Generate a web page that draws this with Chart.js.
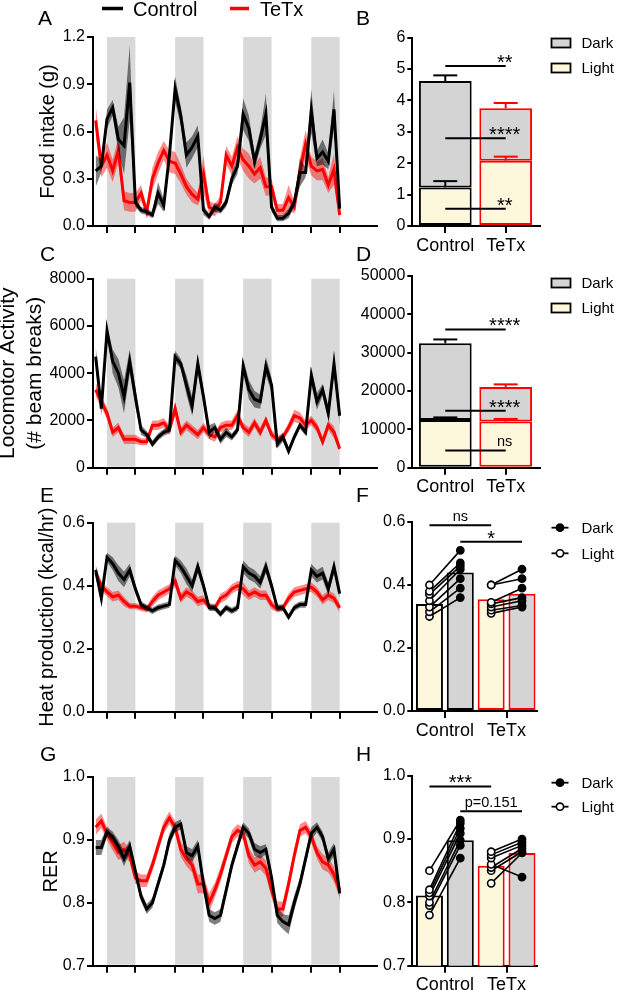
<!DOCTYPE html>
<html>
<head>
<meta charset="utf-8">
<title>Control vs TeTx metabolic phenotype</title>
<script src="https://cdn.jsdelivr.net/npm/chart.js@4.4.1/dist/chart.umd.min.js"></script>
<style>
  html, body { margin:0; padding:0; background:#fff; }
  #fig { position:relative; width:617px; height:990px; overflow:hidden; background:#fff; }
  #fig canvas { position:absolute; }
</style>
</head>
<body>
<div id="fig">
  <canvas id="cA"></canvas><canvas id="cB"></canvas>
  <canvas id="cC"></canvas><canvas id="cD"></canvas>
  <canvas id="cE"></canvas><canvas id="cF"></canvas>
  <canvas id="cG"></canvas><canvas id="cH"></canvas>
</div>
<script>
// ================= DATA =================
const GROUPS = ['Control', 'TeTx'];
const PERIODS = ['Dark', 'Light'];
// 2-h bins over 4 days
const TIME_POINTS = [0,1,2,3,4,5,6,7,8,9,10,11,12,13,14,15,16,17,18,19,20,21,22,23,24,25,26,27,28,29,30,31,32,33,34,35,36,37,38,39,40,41,42,43];
const DARK_PERIODS = [[2,7],[14,19],[26,31],[38,43]];

// A: food intake (g), mean and SEM
const FOOD_CONTROL = [0.35,0.38,0.68,0.75,0.55,0.51,0.91,0.15,0.10,0.09,0.07,0.21,0.13,0.45,0.87,0.70,0.45,0.50,0.57,0.10,0.06,0.12,0.10,0.15,0.30,0.38,0.71,0.62,0.41,0.55,0.71,0.12,0.05,0.05,0.08,0.15,0.34,0.34,0.73,0.43,0.47,0.41,0.74,0.11];
const FOOD_CONTROL_SEM = [0.10,0.04,0.06,0.05,0.08,0.18,0.24,0.03,0.02,0.02,0.02,0.07,0.04,0.05,0.08,0.06,0.08,0.07,0.07,0.03,0.02,0.03,0.02,0.03,0.04,0.05,0.10,0.08,0.05,0.06,0.13,0.03,0.02,0.02,0.03,0.03,0.09,0.03,0.14,0.05,0.08,0.05,0.12,0.02];
const FOOD_TETX = [0.67,0.38,0.45,0.35,0.48,0.16,0.15,0.15,0.21,0.09,0.30,0.40,0.48,0.41,0.40,0.33,0.25,0.20,0.17,0.33,0.12,0.10,0.15,0.45,0.38,0.50,0.42,0.38,0.33,0.37,0.25,0.25,0.10,0.10,0.18,0.12,0.35,0.52,0.38,0.35,0.36,0.26,0.36,0.07];
const FOOD_TETX_SEM = [0.10,0.07,0.08,0.07,0.08,0.06,0.06,0.06,0.05,0.03,0.07,0.07,0.06,0.07,0.07,0.06,0.05,0.05,0.04,0.12,0.04,0.04,0.04,0.06,0.06,0.07,0.07,0.08,0.06,0.07,0.06,0.05,0.04,0.04,0.08,0.04,0.08,0.09,0.06,0.06,0.07,0.05,0.10,0.03];

// C: locomotor activity (# beam breaks)
const LOCO_CONTROL = [4700,2500,5800,4500,4000,3000,4500,3000,1600,1400,1000,1300,1500,1600,4700,4400,3500,2600,4400,3000,1500,1700,1200,1500,1300,1600,4300,3300,2900,2800,4300,3500,1000,1300,700,1300,1800,1500,3900,2800,3300,2300,4400,2200];
const LOCO_CONTROL_SEM = [450,300,150,500,600,700,500,400,200,150,150,150,150,150,250,200,400,400,350,300,300,200,200,200,150,150,300,400,350,300,400,300,200,200,150,150,150,150,350,350,250,300,400,400];
const LOCO_TETX = [3300,2800,2300,1500,1700,1200,1200,1200,1100,1100,1800,1800,1900,1600,2500,1500,1800,1600,1400,1700,1400,1300,1700,1800,1800,2200,1700,1500,1900,1500,2000,1400,1200,1300,1700,2200,2100,1800,2000,1700,1100,1800,1500,800];
const LOCO_TETX_SEM = [300,250,250,200,200,200,200,200,150,150,200,200,200,200,300,200,200,200,200,200,200,200,200,200,200,250,200,200,200,200,200,200,150,150,200,250,250,200,200,200,200,200,250,150];

// E: heat production (kcal/hr)
const HEAT_CONTROL = [0.45,0.36,0.49,0.47,0.44,0.42,0.45,0.39,0.34,0.33,0.32,0.33,0.335,0.34,0.48,0.46,0.43,0.40,0.46,0.40,0.33,0.33,0.31,0.33,0.32,0.33,0.46,0.44,0.43,0.41,0.46,0.40,0.33,0.33,0.30,0.33,0.34,0.34,0.45,0.43,0.44,0.39,0.46,0.375];
const HEAT_CONTROL_SEM = [0.02,0.015,0.015,0.02,0.025,0.025,0.02,0.015,0.01,0.01,0.01,0.01,0.01,0.01,0.015,0.02,0.025,0.02,0.02,0.015,0.01,0.01,0.01,0.01,0.01,0.01,0.02,0.02,0.02,0.02,0.02,0.015,0.01,0.01,0.01,0.01,0.01,0.01,0.02,0.02,0.02,0.02,0.02,0.015];
const HEAT_TETX = [0.44,0.40,0.38,0.365,0.37,0.35,0.335,0.335,0.33,0.325,0.35,0.37,0.38,0.39,0.415,0.36,0.38,0.37,0.35,0.355,0.335,0.33,0.36,0.37,0.39,0.40,0.39,0.37,0.38,0.37,0.37,0.34,0.325,0.33,0.36,0.38,0.385,0.39,0.395,0.38,0.355,0.37,0.36,0.33];
const HEAT_TETX_SEM = [0.02,0.015,0.015,0.015,0.015,0.015,0.01,0.01,0.01,0.01,0.015,0.015,0.015,0.015,0.02,0.015,0.015,0.015,0.015,0.015,0.01,0.01,0.015,0.015,0.015,0.015,0.02,0.015,0.015,0.015,0.015,0.015,0.01,0.01,0.015,0.015,0.015,0.015,0.015,0.015,0.015,0.015,0.015,0.015];

// G: RER
const RER_CONTROL = [0.888,0.888,0.913,0.905,0.89,0.87,0.89,0.85,0.81,0.79,0.80,0.83,0.86,0.90,0.92,0.925,0.88,0.875,0.89,0.83,0.78,0.775,0.78,0.82,0.86,0.89,0.92,0.91,0.885,0.88,0.885,0.84,0.78,0.77,0.765,0.80,0.83,0.87,0.91,0.92,0.905,0.87,0.885,0.815];
const RER_CONTROL_SEM = [0.012,0.012,0.008,0.008,0.01,0.012,0.01,0.01,0.008,0.008,0.008,0.008,0.008,0.01,0.008,0.008,0.01,0.01,0.01,0.01,0.01,0.01,0.01,0.01,0.008,0.008,0.008,0.008,0.01,0.01,0.008,0.01,0.012,0.012,0.015,0.012,0.01,0.01,0.01,0.008,0.008,0.01,0.01,0.012];
const RER_TETX = [0.92,0.93,0.91,0.895,0.88,0.885,0.875,0.84,0.835,0.835,0.86,0.89,0.92,0.935,0.92,0.885,0.87,0.86,0.83,0.83,0.80,0.82,0.845,0.875,0.905,0.915,0.91,0.875,0.86,0.865,0.855,0.82,0.79,0.79,0.83,0.875,0.915,0.92,0.905,0.88,0.865,0.86,0.845,0.82];
const RER_TETX_SEM = [0.012,0.012,0.01,0.012,0.012,0.012,0.01,0.01,0.01,0.01,0.01,0.01,0.01,0.01,0.01,0.012,0.012,0.012,0.015,0.015,0.015,0.012,0.012,0.01,0.01,0.01,0.01,0.012,0.012,0.012,0.012,0.012,0.012,0.012,0.012,0.01,0.01,0.01,0.01,0.01,0.012,0.012,0.012,0.012];

// B: food intake per period (stacked), [Control, TeTx]
const FOOD_LIGHT = [1.23, 2.08];
const FOOD_DARK = [3.39, 1.67];
const FOOD_LIGHT_SEM = [0.20, 0.13];
const FOOD_TOTAL_SEM = [0.18, 0.17];
const FOOD_SIG = [
  {g1: 0, g2: 1, y: 5.1, label: '**'},
  {g1: 0, g2: 1, y: 2.8, label: '****'},
  {g1: 0, g2: 1, y: 0.55, label: '**'}
];

// D: locomotor activity per period (stacked)
const LOCO_LIGHT = [12400, 12000];
const LOCO_DARK = [20000, 9000];
const LOCO_LIGHT_SEM = [700, 700];
const LOCO_TOTAL_SEM = [1000, 700];
const LOCO_SIG = [
  {g1: 0, g2: 1, y: 36000, label: '****'},
  {g1: 0, g2: 1, y: 14800, label: '****'},
  {g1: 0, g2: 1, y: 4500, label: 'ns'}
];

// F: heat production per period, group means and individual mice
const HEAT_LIGHT_MEAN = [0.340, 0.355];
const HEAT_DARK_MEAN = [0.440, 0.372];
const HEAT_CONTROL_LIGHT = [0.40, 0.38, 0.37, 0.35, 0.33, 0.315, 0.30];
const HEAT_CONTROL_DARK  = [0.51, 0.47, 0.46, 0.45, 0.42, 0.39, 0.36];
const HEAT_TETX_LIGHT = [0.40, 0.40, 0.345, 0.34, 0.33, 0.32, 0.31];
const HEAT_TETX_DARK  = [0.45, 0.42, 0.39, 0.36, 0.35, 0.335, 0.33];
const HEAT_SIG = [
  {g1: 0, g2: 1, period: 'Light', y: 0.590, label: 'ns'},
  {g1: 0, g2: 1, period: 'Dark', y: 0.537, label: '*'}
];

// H: RER per period
const RER_LIGHT_MEAN = [0.811, 0.858];
const RER_DARK_MEAN = [0.898, 0.878];
const RER_CONTROL_LIGHT = [0.85, 0.82, 0.815, 0.81, 0.80, 0.795, 0.78];
const RER_CONTROL_DARK  = [0.93, 0.925, 0.917, 0.909, 0.898, 0.89, 0.87];
const RER_TETX_LIGHT = [0.88, 0.875, 0.87, 0.86, 0.855, 0.85, 0.83];
const RER_TETX_DARK  = [0.90, 0.895, 0.89, 0.84, 0.885, 0.88, 0.878];
const RER_SIG = [
  {g1: 0, g2: 1, period: 'Light', y: 0.983, label: '***'},
  {g1: 0, g2: 1, period: 'Dark', y: 0.944, label: 'p=0.151'}
];

// ================= STYLE =================
const FONT = '"Liberation Sans", Arial, Helvetica, sans-serif';
const GROUP_COLORS = ['#000000', '#ff0000'];
const CTRL_BAND = 'rgba(0,0,0,0.5)';
const TETX_BAND = 'rgba(255,0,0,0.45)';
const DARK_SHADE = '#d9d9d9';
const LIGHT_FILL = '#fdf8dc';
const DARK_FILL = '#d4d4d4';
const BAR_CAT_PCT = 1;
const PAIR_DX = BAR_CAT_PCT / 4;

Chart.defaults.font.family = FONT;
Chart.defaults.color = '#000';
Chart.defaults.animation = false;

function place(id, box) {
  const cv = document.getElementById(id);
  cv.width = box.w; cv.height = box.h;
  cv.style.left = box.left + 'px'; cv.style.top = box.top + 'px';
  cv.style.width = box.w + 'px'; cv.style.height = box.h + 'px';
  return cv;
}
function frame(o) {
  return {
    pad: {left: 0, top: o.area.t - o.box.top, right: o.box.left + o.box.w - o.area.r, bottom: 0},
    yW: o.area.l - o.box.left,
    xH: o.box.top + o.box.h - o.area.b
  };
}
function axisLines(tickLength) {
  return {
    grid: {display: true, drawOnChartArea: false, drawTicks: true, tickLength, color: '#000', lineWidth: 2, offset: false},
    border: {display: true, color: '#000', width: 2}
  };
}
function txt(ctx, s, x, y, size, align, baseline) {
  ctx.save();
  ctx.font = size + 'px ' + FONT;
  ctx.fillStyle = '#000';
  ctx.textAlign = align || 'left';
  ctx.textBaseline = baseline || 'alphabetic';
  ctx.fillText(s, x, y);
  ctx.restore();
}
function seg(ctx, x1, y1, x2, y2, color, w) {
  ctx.save();
  ctx.strokeStyle = color; ctx.lineWidth = w; ctx.lineCap = 'butt';
  ctx.beginPath(); ctx.moveTo(x1, y1); ctx.lineTo(x2, y2); ctx.stroke();
  ctx.restore();
}
function drawSig(chart, sigs, xOf, labelAtEnd) {
  const ctx = chart.ctx, xs = chart.scales.x, ys = chart.scales.y;
  sigs.forEach(s => {
    const x1 = xs.getPixelForValue(xOf(s.g1, s.period));
    const x2 = xs.getPixelForValue(xOf(s.g2, s.period));
    const yy = ys.getPixelForValue(s.y);
    seg(ctx, x1, yy, x2, yy, '#000', 2);
    const tx = labelAtEnd ? x2 - 1 : (x1 + x2) / 2;
    if (/^\*+$/.test(s.label)) {
      txt(ctx, s.label, tx, yy + 3, 20, 'center');
    } else {
      txt(ctx, s.label, tx, yy - 4.5, 14.5, 'center');
    }
  });
}

// ================= TIME SERIES PANELS =================
function timeSeries(o) {
  const cv = place(o.id, o.box), f = frame(o);
  const pts = m => m.map((v, i) => ({x: TIME_POINTS[i], y: v}));
  const shift = (m, s, k) => m.map((v, i) => ({x: TIME_POINTS[i], y: v + k * s[i]}));
  const mean = (label, m, color) => ({label, data: pts(m), borderColor: color, borderWidth: 3, pointRadius: 0, tension: 0, fill: false});
  const edge = (label, m, s, k, col) => ({label, data: shift(m, s, k), borderColor: 'rgba(0,0,0,0)', borderWidth: 1, pointRadius: 0, tension: 0, fill: k > 0 ? '+1' : false, backgroundColor: col});
  const shade = {id: 'darkPeriods', beforeDraw(chart) {
    const {ctx, chartArea: a, scales: {x}} = chart;
    ctx.save(); ctx.fillStyle = DARK_SHADE;
    DARK_PERIODS.forEach(([s, e]) => {
      const x1 = x.getPixelForValue(s), x2 = x.getPixelForValue(e);
      ctx.fillRect(x1, a.top, x2 - x1, a.bottom - a.top - 1);
    });
    ctx.restore();
  }};
  const deco = {id: 'deco', afterDraw(chart) {
    const ctx = chart.ctx;
    txt(ctx, o.letter.t, o.letter.x - o.box.left, o.letter.y - o.box.top, 21);
    if (o.legend) {
      [0, 3].forEach((di, k) => {
        const ds = chart.data.datasets[di], L = o.legend[k];
        seg(ctx, L.x1 - o.box.left, L.y - o.box.top, L.x2 - o.box.left, L.y - o.box.top, ds.borderColor, 3.5);
        txt(ctx, ds.label, L.tx - o.box.left, L.base - o.box.top, 20);
      });
    }
  }};
  new Chart(cv, {
    type: 'line',
    data: {datasets: [
      mean(GROUPS[0], o.ctrl, GROUP_COLORS[0]),
      edge('Control +SEM', o.ctrl, o.ctrlSem, 1, CTRL_BAND),
      edge('Control -SEM', o.ctrl, o.ctrlSem, -1, CTRL_BAND),
      mean(GROUPS[1], o.tetx, GROUP_COLORS[1]),
      edge('TeTx +SEM', o.tetx, o.tetxSem, 1, TETX_BAND),
      edge('TeTx -SEM', o.tetx, o.tetxSem, -1, TETX_BAND)
    ]},
    options: {
      responsive: false, animation: false,
      layout: {padding: f.pad},
      plugins: {legend: {display: false}, tooltip: {enabled: false}},
      scales: {
        x: {type: 'linear', min: -0.47, max: 49.58, offset: false,
            afterBuildTicks: s => { s.ticks = DARK_PERIODS.flat().map(v => ({value: v})); },
            ticks: {display: false},
            ...axisLines(7),
            afterFit: s => { s.height = f.xH; }},
        y: {min: o.y.min, max: o.y.max,
            ticks: {stepSize: o.y.step, font: {size: 16}, color: '#000', padding: 2, callback: v => o.y.fmt(v)},
            ...axisLines(6),
            title: {display: true, text: o.title, color: '#000', font: {size: o.titleSize || 20, lineHeight: o.titleLH}, padding: {top: o.titlePad, bottom: 0}},
            afterFit: s => { s.width = f.yW; }}
      }
    },
    plugins: [shade, deco]
  });
}

// ================= STACKED BAR PANELS =================
function stackedPanel(o) {
  const cv = place(o.id, o.box), f = frame(o);
  const toPts = vals => vals.map((v, i) => ({x: i, y: v}));
  const barDs = (label, vals, fill) => ({label, data: toPts(vals), backgroundColor: fill, borderColor: GROUP_COLORS, borderWidth: 2, borderSkipped: false, categoryPercentage: BAR_CAT_PCT, barPercentage: 0.873});
  const errs = {id: 'errorBars', afterDatasetsDraw(chart) {
    const ctx = chart.ctx, ys = chart.scales.y, meta = chart.getDatasetMeta(0);
    o.light.forEach((lv, j) => {
      const x = meta.data[j].x, tot = lv + o.dark[j];
      [[lv, o.lightSem[j]], [tot, o.totalSem[j]]].forEach(([v, s]) => {
        const y0 = ys.getPixelForValue(v), y1 = ys.getPixelForValue(v + s);
        seg(ctx, x, y0, x, y1, GROUP_COLORS[j], 2);
        seg(ctx, x - 12, y1, x + 12, y1, GROUP_COLORS[j], 2);
      });
    });
  }};
  const deco = {id: 'deco', afterDraw(chart) {
    const ctx = chart.ctx, bx = o.box.left, by = o.box.top;
    txt(ctx, o.letter.t, o.letter.x - bx, o.letter.y - by, 21);
    [1, 0].forEach((di, k) => {
      const ds = chart.data.datasets[di], cy = o.legendY[k] - by;
      ctx.save();
      ctx.fillStyle = ds.backgroundColor; ctx.strokeStyle = '#000'; ctx.lineWidth = 1.8;
      ctx.fillRect(551.5 - bx, cy - 4.5, 19, 9); ctx.strokeRect(551.5 - bx, cy - 4.5, 19, 9);
      ctx.restore();
      txt(ctx, ds.label, 581.5 - bx, cy + 5.2, 15);
    });
    drawSig(chart, o.sig, g => g, true);
  }};
  new Chart(cv, {
    type: 'bar',
    data: {datasets: [barDs(PERIODS[1], o.light, LIGHT_FILL), barDs(PERIODS[0], o.dark, DARK_FILL)]},
    options: {
      responsive: false, animation: false,
      layout: {padding: f.pad},
      plugins: {legend: {display: false}, tooltip: {enabled: false}},
      scales: {
        x: {type: 'linear', stacked: true, offset: false, min: -0.546, max: 1.568,
            afterBuildTicks: s => { s.ticks = GROUPS.map((g, i) => ({value: i})); },
            ticks: {callback: v => GROUPS[v], font: {size: 18}, color: '#000', padding: 2, autoSkip: false, maxRotation: 0},
            ...axisLines(7),
            afterFit: s => { s.height = f.xH; }},
        y: {stacked: true, min: 0, max: o.yMax,
            ticks: {stepSize: o.yStep, font: {size: 16}, color: '#000', padding: 2, callback: v => String(v)},
            ...axisLines(5),
            afterFit: s => { s.width = f.yW; }}
      }
    },
    plugins: [errs, deco]
  });
}

// ================= PAIRED BAR PANELS =================
function pairedPanel(o) {
  const cv = place(o.id, o.box), f = frame(o);
  const xOf = (g, period) => g + (period === 'Light' ? -PAIR_DX : PAIR_DX);
  const mice = [];
  o.indiv.forEach((grp, g) => {
    grp.light.forEach((lv, k) => {
      mice.push({type: 'line', label: GROUPS[g] + ' mouse ' + (k + 1),
        data: [{x: xOf(g, 'Light'), y: lv}, {x: xOf(g, 'Dark'), y: grp.dark[k]}],
        borderColor: '#000', borderWidth: 1.6, tension: 0, fill: false,
        pointRadius: 3.6, pointBorderWidth: 1.6, pointBorderColor: '#000',
        pointBackgroundColor: ['#ffffff', '#000000'], order: 0});
    });
  });
  const barDs = (label, vals, fill, order) => ({type: 'bar', label, data: vals.map((v, i) => ({x: i, y: v})), backgroundColor: fill, borderColor: GROUP_COLORS, borderWidth: 2, borderSkipped: false, categoryPercentage: BAR_CAT_PCT, barPercentage: 0.875, order});
  const deco = {id: 'deco', afterDraw(chart) {
    const ctx = chart.ctx, bx = o.box.left, by = o.box.top;
    txt(ctx, o.letter.t, o.letter.x - bx, o.letter.y - by, 21);
    PERIODS.forEach((p, k) => {
      const cy = o.legendY[k] - by;
      seg(ctx, 551.5 - bx, cy, 568.5 - bx, cy, '#000', 1.8);
      ctx.save();
      ctx.beginPath(); ctx.arc(560 - bx, cy, 3.6, 0, Math.PI * 2);
      ctx.fillStyle = p === 'Dark' ? '#000' : '#fff'; ctx.fill();
      ctx.lineWidth = 1.6; ctx.strokeStyle = '#000'; ctx.stroke();
      ctx.restore();
      txt(ctx, p, 581.5 - bx, cy + 5.2, 15);
    });
    drawSig(chart, o.sig, xOf, false);
  }};
  new Chart(cv, {
    type: 'bar',
    data: {datasets: mice.concat([barDs(PERIODS[1], o.lightMean, LIGHT_FILL, 10), barDs(PERIODS[0], o.darkMean, DARK_FILL, 11)])},
    options: {
      responsive: false, animation: false,
      layout: {padding: f.pad},
      plugins: {legend: {display: false}, tooltip: {enabled: false}},
      scales: {
        x: {type: 'linear', offset: false, min: -0.528, max: 1.493,
            afterBuildTicks: s => { s.ticks = GROUPS.map((g, i) => ({value: i})); },
            ticks: {callback: v => GROUPS[v], font: {size: 18}, color: '#000', padding: 2, autoSkip: false, maxRotation: 0},
            ...axisLines(7),
            afterFit: s => { s.height = f.xH; }},
        y: {min: o.yMin, max: o.yMax,
            ticks: {stepSize: o.yStep, font: {size: 16}, color: '#000', padding: 2, callback: v => v.toFixed(1)},
            ...axisLines(5),
            afterFit: s => { s.width = f.yW; }}
      }
    },
    plugins: [deco]
  });
}

// ================= BUILD =================
const fmt1 = v => v.toFixed(1);
timeSeries({id: 'cA', box: {left: 0, top: 0, w: 380, h: 238}, area: {l: 93, t: 37, r: 377, b: 226},
  y: {min: 0, max: 1.2, step: 0.3, fmt: fmt1}, title: 'Food intake (g)', titleLH: 1.2, titlePad: 36,
  ctrl: FOOD_CONTROL, ctrlSem: FOOD_CONTROL_SEM, tetx: FOOD_TETX, tetxSem: FOOD_TETX_SEM,
  letter: {t: 'A', x: 38, y: 25},
  legend: [{x1: 102, x2: 123, y: 8.5, tx: 133, base: 15.5}, {x1: 230, x2: 249, y: 8.5, tx: 260, base: 15.5}]});
timeSeries({id: 'cC', box: {left: 0, top: 238, w: 380, h: 252}, area: {l: 93, t: 278.7, r: 377, b: 467.7},
  y: {min: 0, max: 8000, step: 2000, fmt: v => String(v)}, title: ['Locomotor Activity', '(# beam breaks)'], titleSize: 21, titleLH: 1.28, titlePad: -5.5,
  ctrl: LOCO_CONTROL, ctrlSem: LOCO_CONTROL_SEM, tetx: LOCO_TETX, tetxSem: LOCO_TETX_SEM,
  letter: {t: 'C', x: 40, y: 260.5}});
timeSeries({id: 'cE', box: {left: 0, top: 482, w: 380, h: 258}, area: {l: 93, t: 522.7, r: 377, b: 711.7},
  y: {min: 0, max: 0.6, step: 0.2, fmt: fmt1}, title: 'Heat production (kcal/hr)', titleLH: 1.2, titlePad: 35.5,
  ctrl: HEAT_CONTROL, ctrlSem: HEAT_CONTROL_SEM, tetx: HEAT_TETX, tetxSem: HEAT_TETX_SEM,
  letter: {t: 'E', x: 40, y: 502}});
timeSeries({id: 'cG', box: {left: 0, top: 740, w: 380, h: 250}, area: {l: 93, t: 777, r: 377, b: 965.7},
  y: {min: 0.7, max: 1.0, step: 0.1, fmt: fmt1}, title: 'RER', titleLH: 1.2, titlePad: 39,
  ctrl: RER_CONTROL, ctrlSem: RER_CONTROL_SEM, tetx: RER_TETX, tetxSem: RER_TETX_SEM,
  letter: {t: 'G', x: 40, y: 761}});

stackedPanel({id: 'cB', box: {left: 355, top: 0, w: 262, h: 262}, area: {l: 412.3, t: 37.7, r: 540, b: 226},
  yMax: 6, yStep: 1, light: FOOD_LIGHT, dark: FOOD_DARK, lightSem: FOOD_LIGHT_SEM, totalSem: FOOD_TOTAL_SEM,
  sig: FOOD_SIG, letter: {t: 'B', x: 356, y: 25}, legendY: [43, 68]});
stackedPanel({id: 'cD', box: {left: 355, top: 238, w: 262, h: 262}, area: {l: 412.3, t: 275.7, r: 540, b: 467.7},
  yMax: 50000, yStep: 10000, light: LOCO_LIGHT, dark: LOCO_DARK, lightSem: LOCO_LIGHT_SEM, totalSem: LOCO_TOTAL_SEM,
  sig: LOCO_SIG, letter: {t: 'D', x: 356, y: 260.5}, legendY: [283, 308]});

pairedPanel({id: 'cF', box: {left: 355, top: 482, w: 262, h: 258}, area: {l: 412.3, t: 522, r: 537, b: 711},
  yMin: 0, yMax: 0.6, yStep: 0.2, lightMean: HEAT_LIGHT_MEAN, darkMean: HEAT_DARK_MEAN,
  indiv: [{light: HEAT_CONTROL_LIGHT, dark: HEAT_CONTROL_DARK}, {light: HEAT_TETX_LIGHT, dark: HEAT_TETX_DARK}],
  sig: HEAT_SIG, letter: {t: 'F', x: 356, y: 502}, legendY: [527.7, 553.3]});
pairedPanel({id: 'cH', box: {left: 355, top: 740, w: 262, h: 250}, area: {l: 412.3, t: 775.7, r: 537, b: 965.7},
  yMin: 0.7, yMax: 1.0, yStep: 0.1, lightMean: RER_LIGHT_MEAN, darkMean: RER_DARK_MEAN,
  indiv: [{light: RER_CONTROL_LIGHT, dark: RER_CONTROL_DARK}, {light: RER_TETX_LIGHT, dark: RER_TETX_DARK}],
  sig: RER_SIG, letter: {t: 'H', x: 356, y: 760.7}, legendY: [782.7, 806.7]});
</script>
</body>
</html>
